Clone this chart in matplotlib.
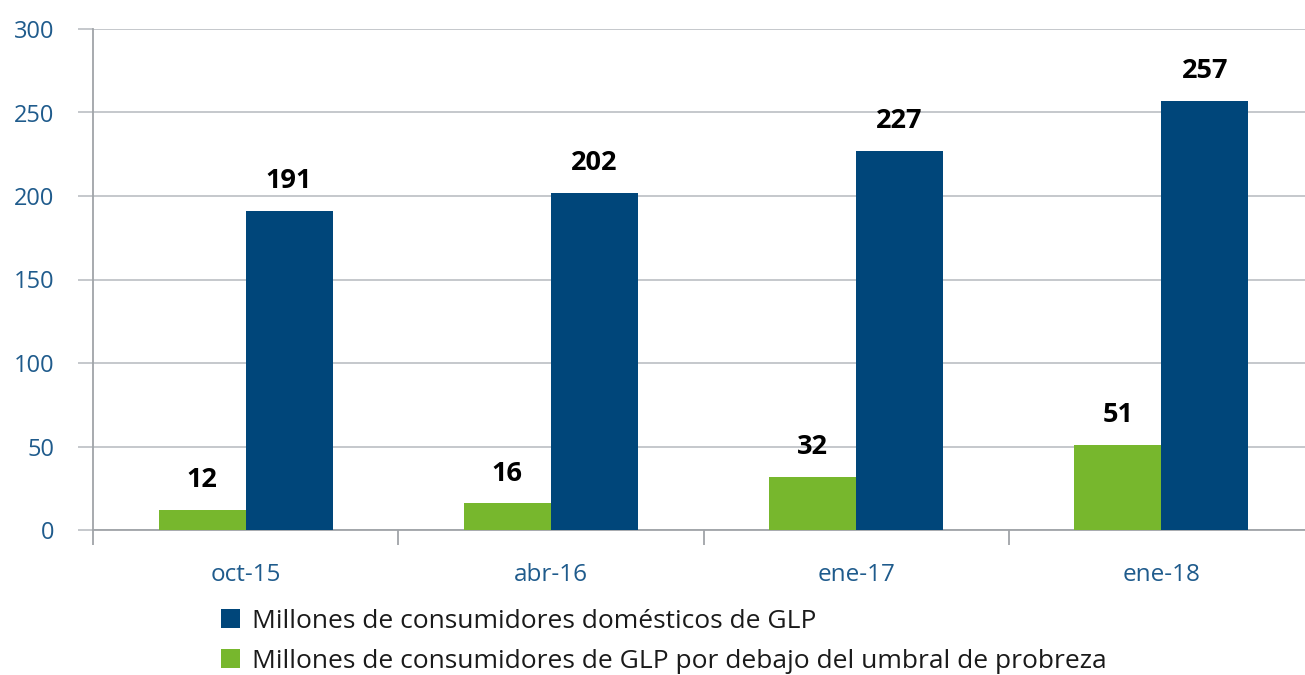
import matplotlib.pyplot as plt
import numpy as np

# Data
fechas = ['oct-15', 'abr-16', 'ene-17', 'ene-18']
domesticos = [191, 202, 227, 257]
bajo_umbral = [12, 16, 32, 51]

azul = '#00467a'
verde = '#77b72d'
texto_ejes = '#1f5b8c'
gris = '#c0c4c8'

plt.rcParams['font.family'] = ['Open Sans', 'DejaVu Sans']

fig = plt.figure(figsize=(13.05, 6.75), dpi=100)
W, H = 1305, 675
ax = fig.add_axes([93 / W, (H - 530) / H, 1221 / W, 501 / H])

x = np.arange(len(fechas))
w = 0.285
b_verde = ax.bar(x - w / 2, bajo_umbral, w, color=verde,
                 label='Millones de consumidores de GLP por debajo del umbral de probreza', zorder=3)
b_azul = ax.bar(x + w / 2, domesticos, w, color=azul,
                label='Millones de consumidores domésticos de GLP', zorder=3)

for bars in (b_verde, b_azul):
    for r in bars:
        ax.annotate(f'{int(r.get_height())}', (r.get_x() + r.get_width() / 2, r.get_height()),
                    xytext=(0, 12), textcoords='offset points', ha='center', va='bottom',
                    fontsize=19.5, fontweight='bold', color='black')

ax.set_xlim(-0.5, 3.5)
ax.set_ylim(0, 300)
ax.set_yticks(range(0, 301, 50))
ax.yaxis.grid(True, color=gris, linewidth=1.3, zorder=0)
ax.tick_params(axis='y', length=11, color=gris, width=1.3, labelsize=17,
               labelcolor=texto_ejes, pad=17)

# category ticks on boundaries, labels centered
ax.set_xticks(np.arange(-0.5, 4, 1))
ax.set_xticklabels([])
ax.set_xticks(x, minor=True)
ax.set_xticklabels(fechas, minor=True)
ax.tick_params(axis='x', which='major', length=11, color='#a0a4a8', width=1.3)
ax.tick_params(axis='x', which='minor', length=0, labelsize=17.5, labelcolor=texto_ejes, pad=24)

for s in ['top', 'right']:
    ax.spines[s].set_visible(False)
ax.spines['left'].set_color('#a0a4a8')
ax.spines['left'].set_linewidth(1.3)
ax.spines['bottom'].set_color('#a0a4a8')
ax.spines['bottom'].set_linewidth(1.3)

handles = [b_azul, b_verde]
labels = [h.get_label() for h in handles]
fig.legend(handles, labels, loc='upper left', bbox_to_anchor=(221 / W, 1 - 609 / H),
           frameon=False, fontsize=19, handlelength=0.72, handleheight=0.72,
           handletextpad=0.45, labelspacing=0.55, borderaxespad=0, borderpad=0,
           labelcolor='#1a1a1a')

fig.savefig('out.png', dpi=100)
